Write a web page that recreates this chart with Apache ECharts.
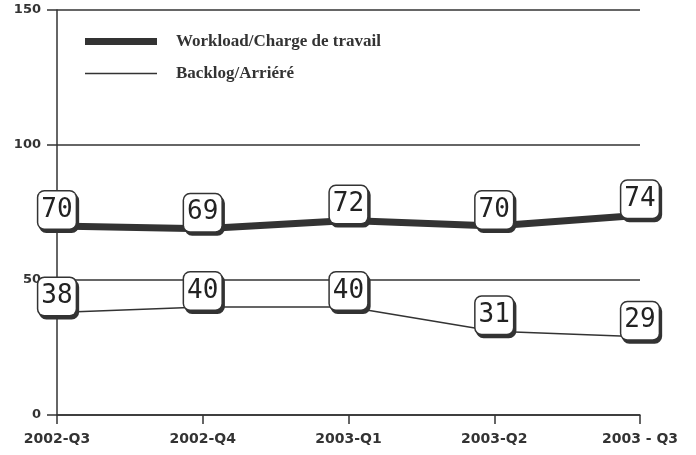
<!DOCTYPE html>
<html><head><meta charset="utf-8">
<script src="https://cdn.jsdelivr.net/npm/echarts@6/dist/echarts.min.js"></script>
<style>html,body{margin:0;padding:0;background:#fff}#c{width:696px;height:455px}</style>
</head><body><div id="c"></div>
<script>
const categories = ['2002-Q3', '2002-Q4', '2003-Q1', '2003-Q2', '2003 - Q3'];
const workload = [70, 69, 72, 70, 74];
const backlog = [38, 40, 40, 31, 29];
const yTicks = [0, 50, 100, 150];
const seriesNames = ['Workload/Charge de travail', 'Backlog/Arriéré'];

const ink = '#333';
const boxLabel = {
  show: true,
  position: 'inside',
  offset: [0, -16],
  fontFamily: 'DejaVu Sans Mono',
  fontSize: 26,
  lineHeight: 28,
  color: '#222',
  backgroundColor: '#fff',
  borderColor: ink,
  borderWidth: 1.5,
  borderRadius: 6,
  padding: [5, 3, 4, 3],
  shadowColor: '#333',
  shadowOffsetX: 2,
  shadowOffsetY: 3,
  shadowBlur: 0
};
const chart = echarts.init(document.getElementById('c'));
chart.setOption({
  animation: false,
  grid: { left: 57, right: 56, top: 10, bottom: 40 },
  legend: {
    orient: 'vertical', left: 80, top: 28, itemWidth: 72, itemHeight: 14, itemGap: 15,
    textStyle: { fontFamily: 'Liberation Serif', fontWeight: 'bold', fontSize: 17, color: '#333', padding: [0, 0, 0, 14] },
    data: [
      { name: seriesNames[0], icon: 'path://M0,0H72V7H0Z', itemStyle: { color: ink } },
      { name: seriesNames[1], icon: 'path://M0,0H72V1.5H0Z', itemStyle: { color: ink } }
    ]
  },
  xAxis: {
    type: 'category', data: categories, boundaryGap: false,
    axisLine: { lineStyle: { color: ink, width: 1.5 } },
    axisTick: { alignWithLabel: true, length: 9, lineStyle: { color: ink, width: 1.5 } },
    axisLabel: { fontFamily: 'DejaVu Sans', fontWeight: 'bold', fontSize: 14, color: '#333', margin: 17 }
  },
  yAxis: {
    type: 'value', min: yTicks[0], max: yTicks[yTicks.length - 1], interval: 50,
    axisLine: { show: true, lineStyle: { color: ink, width: 1.5 } },
    axisTick: { show: true, length: 10, lineStyle: { color: ink, width: 1.5 } },
    splitLine: { lineStyle: { color: ink, width: 1.5 } },
    axisLabel: { fontFamily: 'DejaVu Sans', fontWeight: 'bold', fontSize: 13, color: '#333', margin: 16 }
  },
  series: [
    { name: seriesNames[0], type: 'line', data: workload, symbol: 'circle', symbolSize: 0.01, showSymbol: true, clip: false,
      lineStyle: { color: ink, width: 7 }, itemStyle: { color: ink }, label: boxLabel, z: 3 },
    { name: seriesNames[1], type: 'line', data: backlog, symbol: 'circle', symbolSize: 0.01, showSymbol: true, clip: false,
      lineStyle: { color: ink, width: 1.5 }, itemStyle: { color: ink }, label: boxLabel, z: 3 }
  ]
});
</script></body></html>
